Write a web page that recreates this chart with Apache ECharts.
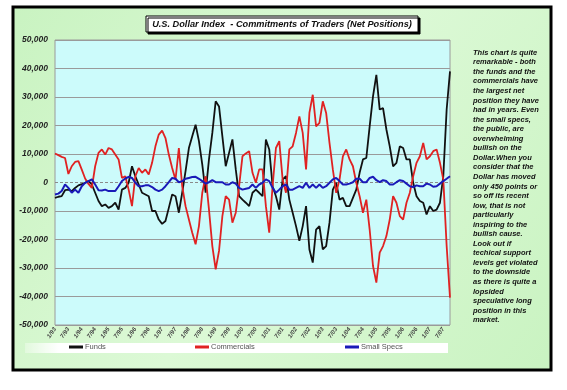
<!DOCTYPE html>
<html><head><meta charset="utf-8">
<script src="https://cdn.jsdelivr.net/npm/echarts@6/dist/echarts.min.js"></script>
<style>html,body{margin:0;padding:0;background:#fff}#c{width:567px;height:390px}</style>
</head><body><div id="c"></div>
<script>
const tickLabels = ['1/93','7/93','1/94','7/94','1/95','7/95','1/96','7/96','1/97','7/97',
  '1/98','7/98','1/99','7/99','1/00','7/00','1/01','7/01','1/02','7/02',
  '1/03','7/03','1/04','7/04','1/05','7/05','1/06','7/06','1/07','7/07'];

const funds = [
  -5400, -5000, -4800, -2700, -2500, -3000, -1900, -1000, -600, -100,
  500, -700, -3600, -6500, -8300, -7700, -8900, -8300, -7100, -9500,
  -2500, -1900, -100, 5700, 2200, -700, -3600, -4200, -4800, -10000,
  -10000, -13000, -14500, -13500, -8900, -4200, -4800, -10600, -3600, 4000,
  12100, 16200, 20300, 14500, 6300, -3600, 8100, 17400, 28500, 26700,
  16200, 5700, 10400, 15100, 4600, -4800, -6000, -7100, -8300, -3600,
  -2500, -3600, -4800, 15100, 11600, -1300, -4800, -9500, 1000, 2200,
  -6000, -10600, -15300, -20500, -15300, -8300, -23500, -28100, -16500, -15300,
  -23500, -22300, -14100, -2500, -100, -6000, -5400, -8300, -8300, -5400,
  -2500, 3400, 8100, 8600, 19700, 30200, 37800, 25600, 26100, 18600,
  12700, 5700, 6900, 12700, 12100, 8100, 8100, -100, -4800, -6500,
  -7100, -11200, -8300, -10000, -9500, -7100, 2200, 25600, 39000
];
const commercials = [
  10200, 9600, 9000, 8600, 3000, 5700, 7200, 7500, 4500, 1400,
  -500, -1900, 5700, 10400, 11600, 9800, 12100, 11600, 9800, 8100,
  1600, 2200, -2500, -8300, 2200, 5100, 3400, 4600, 2800, 6900,
  12700, 16800, 18200, 15600, 9800, 5100, 1000, 12100, -1300, -8300,
  -13000, -17600, -21700, -15300, -3600, 2200, -9500, -22300, -30500, -24000,
  -11800, -4800, -6000, -14100, -10600, -1300, 9200, 10200, 11000, 3400,
  -100, 4600, 4600, -8300, -17600, -1300, 12100, 14500, 1000, -3600,
  11600, 12700, 17400, 23200, 17400, 4600, 24400, 30800, 19700, 20900,
  28500, 24400, 13900, 4600, -3600, 1000, 9200, 11600, 8100, 5700,
  -100, -4800, -10600, -6000, -16500, -29300, -35100, -24600, -22300, -18800,
  -13000, -4800, -7100, -11800, -13000, -7100, -3600, 2200, 6900, 9200,
  13900, 8100, 9200, 11000, 11600, 6900, 1000, -22300, -40400
];
const smallSpecs = [
  -4200, -3900, -3000, -700, -1900, -3600, -2500, -3600, -1300, -100,
  500, 1100, -700, -2700, -2800, -2500, -3000, -3000, -3000, -1300,
  500, 1400, 2000, 1600, -100, -1300, -1300, -1000, -1000, -1600,
  -2500, -3000, -2500, -1300, 100, 1600, 1300, 100, 500, 1300,
  1600, 1900, 2000, 1300, 500, -400, 100, 800, 100, 100,
  100, -700, -700, 100, -400, -1900, -2500, -2200, -1900, -700,
  -1900, -700, -100, 1100, 500, -1900, -3600, -2500, -1300, -700,
  -2500, -2500, -1900, -1300, -1900, -100, -1900, -700, -1900, -700,
  -1900, -1300, -100, 1100, 1600, 500, -700, -700, -400, 100,
  1300, 1300, 100, 100, 1600, 2000, 800, 100, 800, 500,
  -700, -700, 100, 800, 500, -400, -1300, -1600, -1000, -1300,
  -1300, -400, -700, -1500, -1300, -400, 500, 1300, 2200
];

const noteLines = [
  'This chart is quite','remarkable - both','the funds and the','commercials have',
  'the largest net','position they have','had in years. Even','the small specs,',
  'the public, are','overwhelming','bullish on the','Dollar.When you',
  'consider that the','Dollar has moved','only 450 points or','so off its recent',
  'low, that is not','particularly','inspiring to the','bullish cause.',
  'Look out if','techical support','levels get violated','to the downside',
  'as there is quite a','lopsided','speculative long','position in this','market.'
];
const titleText = 'U.S. Dollar Index  - Commitments of Traders (Net Positions)';

const categories = funds.map((v, i) => tickLabels[Math.floor(i / 4)]);
const FONT = '"Liberation Sans", Arial, sans-serif';

const chart = echarts.init(document.getElementById('c'), null, {renderer: 'canvas'});
const gridColors = ['#9a9a9a','#9a9a9a','#9a9a9a','#9a9a9a','#9a9a9a','rgba(0,0,0,0)','#9a9a9a','#9a9a9a','#9a9a9a','#9a9a9a','#9a9a9a'];
const legendBase = {
  top: 343, padding: 0, itemWidth: 14, itemHeight: 3, itemGap: 2, icon: 'rect',
  textStyle: {fontSize: 7.5, color: '#555', fontFamily: FONT, padding: [0, 0, 0, -3]}
};
chart.setOption({
  animation: false,
  backgroundColor: '#ffffff',
  textStyle: {fontFamily: FONT},
  grid: {left: 55, right: 117, top: 40, bottom: 65, show: true,
    backgroundColor: '#ccfbfb', borderColor: '#9a9a9a', borderWidth: 1, z: 0},
  legend: [
    Object.assign({}, legendBase, {left: 69, data: ['Funds']}),
    Object.assign({}, legendBase, {left: 195, data: ['Commercials']}),
    Object.assign({}, legendBase, {left: 345, data: ['Small Specs']})
  ],
  xAxis: {
    type: 'category', data: categories, boundaryGap: false,
    axisLine: {show: false}, axisTick: {show: false},
    axisLabel: {interval: 3, rotate: 55, fontSize: 6, fontStyle: 'italic', fontWeight: 'bold',
      color: '#444', margin: 3, fontFamily: FONT},
    splitLine: {show: false}
  },
  yAxis: {
    type: 'value', min: -50000, max: 50000, interval: 10000,
    axisLine: {show: false}, axisTick: {show: false},
    axisLabel: {fontSize: 8.5, fontStyle: 'italic', fontWeight: 'bold', color: '#222', margin: 7,
      fontFamily: FONT,
      formatter: v => (v < 0 ? '-' : '') + Math.abs(v).toString().replace(/\B(?=(\d{3})+(?!\d))/g, ',')},
    splitLine: {show: true, lineStyle: {color: gridColors, width: 1}}
  },
  series: [
    {name: 'Funds', type: 'line', data: funds, showSymbol: false, symbol: 'none',
      color: '#111111', lineStyle: {width: 1.8, color: '#111111'}},
    {name: 'Commercials', type: 'line', data: commercials, showSymbol: false, symbol: 'none',
      color: '#e02222', lineStyle: {width: 1.8, color: '#e02222'}},
    {name: 'Small Specs', type: 'line', data: smallSpecs, showSymbol: false, symbol: 'none',
      color: '#1a1ab8', lineStyle: {width: 2, color: '#1a1ab8'},
      markLine: {silent: true, symbol: 'none', label: {show: false},
        lineStyle: {type: [3, 2], color: '#8a8a8a', width: 1}, data: [{yAxis: 0}], z: 1}}
  ],
  graphic: {
    elements: [
      {type: 'rect', z: -10, shape: {x: 13, y: 7, width: 538, height: 363},
        style: {fill: new echarts.graphic.LinearGradient(0, 0, 1, 1, [
          {offset: 0, color: '#c9f3c1'}, {offset: 0.5, color: '#dcf9d6'}, {offset: 1, color: '#c9f3c1'}]),
          stroke: '#000', lineWidth: 3}},
      {type: 'rect', z: -5, shape: {x: 25, y: 343, width: 423, height: 10},
        style: {fill: new echarts.graphic.LinearGradient(0, 0, 1, 0, [
          {offset: 0, color: 'rgba(255,255,255,0.3)'}, {offset: 0.08, color: '#ffffff'}, {offset: 1, color: '#ffffff'}])}},
      {type: 'rect', z: 50, shape: {x: 146, y: 16, width: 272, height: 16},
        style: {fill: '#ffffff', stroke: '#000', lineWidth: 1,
          shadowColor: '#000', shadowOffsetX: 2, shadowOffsetY: 2, shadowBlur: 0}},
      {type: 'text', z: 51, x: 282, y: 24.5,
        style: {text: titleText, align: 'center', verticalAlign: 'middle',
          font: 'italic bold 9.2px ' + FONT, fill: '#111'}},
      {type: 'text', z: 51, x: 473, y: 48,
        style: {text: noteLines.join('\n'), align: 'left', verticalAlign: 'top',
          font: 'italic bold 7.5px ' + FONT, lineHeight: 9.55, fill: '#111'}}
    ]
  }
});
</script></body></html>
